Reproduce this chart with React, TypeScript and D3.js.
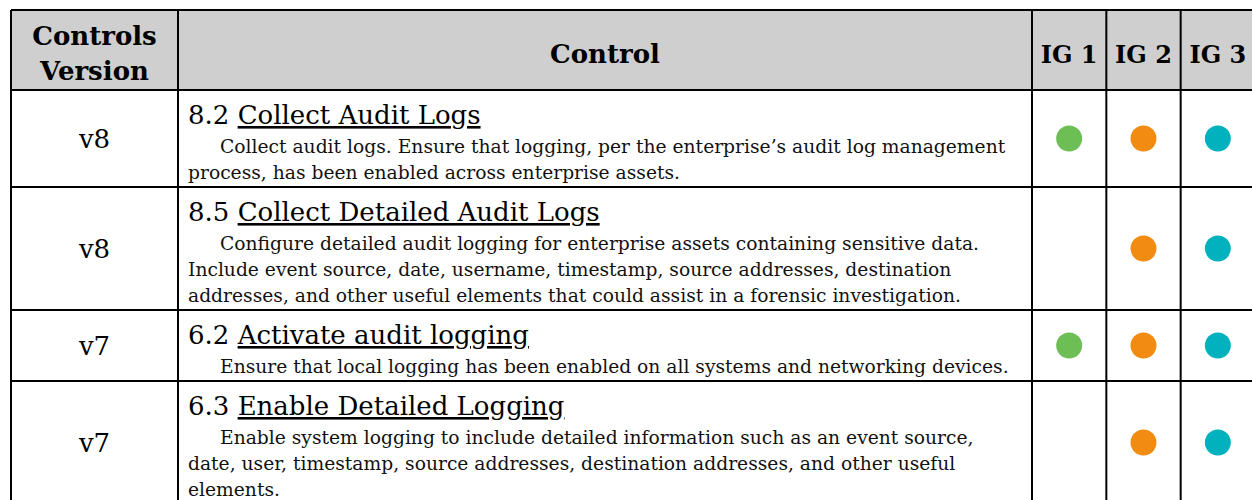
import React from 'react';
import * as d3 from 'd3';

// table content
const versions = ['v8', 'v8', 'v7', 'v7'];
const controlIds = ['8.2', '8.5', '6.2', '6.3'];
const controlTitles = [
  'Collect Audit Logs',
  'Collect Detailed Audit Logs',
  'Activate audit logging',
  'Enable Detailed Logging',
];
const descriptions = [
  [
    'Collect audit logs. Ensure that logging, per the enterprise’s audit log management',
    'process, has been enabled across enterprise assets.',
  ],
  [
    'Configure detailed audit logging for enterprise assets containing sensitive data.',
    'Include event source, date, username, timestamp, source addresses, destination',
    'addresses, and other useful elements that could assist in a forensic investigation.',
  ],
  ['Ensure that local logging has been enabled on all systems and networking devices.'],
  [
    'Enable system logging to include detailed information such as an event source,',
    'date, user, timestamp, source addresses, destination addresses, and other useful',
    'elements.',
  ],
];
const igLabels = ['IG 1', 'IG 2', 'IG 3'];
const ig1 = [true, false, true, false];
const ig2 = [true, true, true, true];
const ig3 = [true, true, true, true];
const igColors = ['#6dbf55', '#f28b12', '#02b1be'];

const FONT = "'DejaVu Serif', 'Liberation Serif', serif";

const App = () => {
  const width = 1252;
  const height = 500;
  const left = 11;
  const top = 10;
  const headerH = 80;
  const colSplit = 178;
  const igStart = 1032;
  const igEnd = 1255;
  const lineH = 26;

  const igX = d3.scaleBand<string>().domain(igLabels).range([igStart, igEnd]);

  const rowHeights = descriptions.map((d) => 45 + d.length * lineH);
  const rowEdges = [top + headerH, ...Array.from(d3.cumsum(rowHeights), (v) => v + top + headerH)];
  const tableBottom = rowEdges[rowEdges.length - 1];

  const flags = [ig1, ig2, ig3];
  const stroke = '#000';
  const sw = 2;

  return (
    <svg
      width={width}
      height={height}
      style={{ display: 'block', position: 'absolute', left: 0, top: 0 }}
    >
      <rect x={0} y={0} width={width} height={height} fill="#fff" />
      {/* header background */}
      <rect x={left} y={top} width={igEnd - left} height={headerH} fill="#cfcfcf" />

      {/* header text */}
      <text x={(left + colSplit) / 2} y={45} textAnchor="middle" fontFamily={FONT} fontWeight="bold" fontSize={26}>
        Controls
      </text>
      <text x={(left + colSplit) / 2} y={80} textAnchor="middle" fontFamily={FONT} fontWeight="bold" fontSize={26}>
        Version
      </text>
      <text x={(colSplit + igStart) / 2} y={63} textAnchor="middle" fontFamily={FONT} fontWeight="bold" fontSize={26}>
        Control
      </text>
      {igLabels.map((l) => (
        <text
          key={l}
          x={(igX(l) as number) + igX.bandwidth() / 2}
          y={63}
          textAnchor="middle"
          fontFamily={FONT}
          fontWeight="bold"
          fontSize={24}
        >
          {l}
        </text>
      ))}

      {/* rows */}
      {versions.map((v, i) => {
        const y0 = rowEdges[i];
        const y1 = rowEdges[i + 1];
        const mid = (y0 + y1) / 2;
        return (
          <g key={i}>
            <text x={(left + colSplit) / 2} y={mid + 9} textAnchor="middle" fontFamily={FONT} fontSize={26}>
              {v}
            </text>
            <text x={188} y={y0 + 34} fontFamily={FONT} fontSize={26}>
              {controlIds[i] + ' '}
              <tspan textDecoration="underline">{controlTitles[i]}</tspan>
            </text>
            {descriptions[i].map((line, j) => (
              <text
                key={j}
                x={j === 0 ? 220 : 188}
                y={y0 + 63 + j * lineH}
                fontFamily={FONT}
                fontSize={18.7}
                fill="#111"
              >
                {line}
              </text>
            ))}
            {igLabels.map((l, k) =>
              flags[k][i] ? (
                <circle
                  key={l}
                  cx={(igX(l) as number) + igX.bandwidth() / 2}
                  cy={mid}
                  r={13}
                  fill={igColors[k]}
                />
              ) : null
            )}
          </g>
        );
      })}

      {/* grid lines */}
      <g stroke={stroke} strokeWidth={sw}>
        {rowEdges.map((y, i) => (
          <line key={'h' + i} x1={left} x2={igEnd} y1={y} y2={y} />
        ))}
        <line x1={left} x2={igEnd} y1={top} y2={top} />
        {[left, colSplit, ...igLabels.map((l) => igX(l) as number)].map((x, i) => (
          <line key={'v' + i} x1={x} x2={x} y1={top} y2={tableBottom} />
        ))}
      </g>
    </svg>
  );
};

export default App;
